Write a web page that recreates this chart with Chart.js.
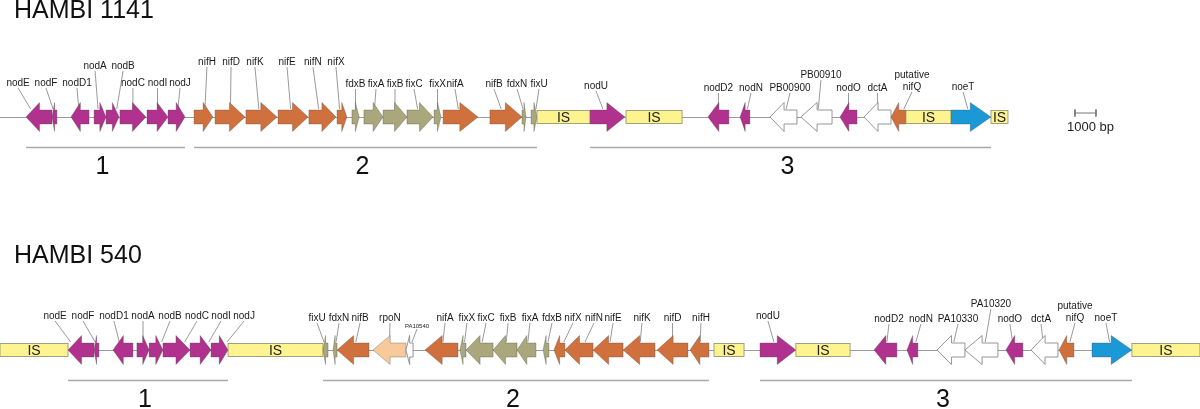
<!DOCTYPE html>
<html>
<head>
<meta charset="utf-8">
<title>nod / nif gene clusters</title>
<script src="https://cdn.jsdelivr.net/npm/chart.js@4.4.1/dist/chart.umd.min.js"></script>
<style>
  html, body { margin: 0; padding: 0; background: #fff; }
  #geneChart { display: block; }
</style>
</head>
<body>
<canvas id="geneChart" width="1200" height="409"></canvas>
<script>
// Gene maps of two strains, positions in kb along the plasmid region

// HAMBI 1141
const names1141 = ['nodE', 'nodF', 'nodD1', 'nodA', 'nodB', 'nodC', 'nodI', 'nodJ',
  'nifH', 'nifD', 'nifK', 'nifE', 'nifN', 'nifX', 'fdxB', 'fixA', 'fixB', 'fixC', 'fixX', 'nifA', 'nifB', 'fdxN', 'fixU',
  'IS', 'nodU', 'IS', 'nodD2', 'nodN', 'PB00900', 'PB00910', 'nodO', 'dctA', 'putative\nnifQ', 'IS', 'noeT', 'IS'];
const starts1141 = [1.24, 2.48, 3.38, 4.48, 5.05, 5.71, 7.00, 8.00,
  9.24, 10.24, 11.71, 13.24, 14.71, 16.05, 16.76, 17.33, 18.24, 19.38, 20.67, 21.10, 23.33, 24.86, 25.29,
  25.57, 28.10, 29.81, 33.71, 35.24, 36.67, 38.14, 40.00, 41.14, 42.43, 43.14, 45.29, 47.19];
const ends1141 = [2.48, 2.71, 4.24, 5.05, 5.67, 6.95, 8.00, 8.81,
  10.14, 11.67, 13.19, 14.67, 16.00, 16.52, 17.10, 18.24, 19.38, 20.62, 21.00, 22.76, 24.86, 25.05, 25.57,
  28.10, 29.76, 32.48, 34.71, 35.71, 37.95, 39.62, 40.81, 42.43, 43.14, 45.29, 47.19, 48.00];
const strands1141 = [-1, -1, -1, 1, 1, 1, 1, 1,
  1, 1, 1, 1, 1, 1, 1, 1, 1, 1, 1, 1, 1, 1, 1,
  0, 1, 0, -1, -1, -1, -1, -1, -1, -1, 0, 1, 0];
const types1141 = ['nod', 'nod', 'nod', 'nod', 'nod', 'nod', 'nod', 'nod',
  'nif', 'nif', 'nif', 'nif', 'nif', 'nif', 'fix', 'fix', 'fix', 'fix', 'fix', 'nif', 'nif', 'fix', 'fix',
  'IS', 'nod', 'IS', 'nod', 'nod', 'other', 'other', 'nod', 'other', 'nif', 'IS', 'noe', 'IS'];
const clusterFirst1141 = [0, 8, 24];
const clusterLast1141 = [7, 22, 34];

// HAMBI 540
const names540 = ['IS', 'nodE', 'nodF', 'nodD1', 'nodA', 'nodB', 'nodC', 'nodI', 'nodJ', 'IS',
  'fixU', 'fdxN', 'nifB', 'rpoN', 'PA10540', 'nifA', 'fixX', 'fixC', 'fixB', 'fixA', 'fdxB',
  'nifX', 'nifN', 'nifE', 'nifK', 'nifD', 'nifH', 'IS', 'nodU', 'IS',
  'nodD2', 'nodN', 'PA10330', 'PA10320', 'nodO', 'dctA', 'putative\nnifQ', 'noeT', 'IS'];
const starts540 = [0, 3.24, 4.48, 5.38, 6.52, 7.10, 7.76, 9.05, 10.05, 10.86,
  15.38, 15.86, 16.05, 17.76, 19.33, 20.24, 21.90, 22.19, 23.48, 24.62, 25.86,
  26.38, 26.90, 28.24, 29.67, 31.29, 32.86, 34.00, 36.19, 37.90,
  41.62, 43.19, 44.62, 45.95, 47.90, 49.10, 50.43, 52.00, 53.90];
const ends540 = [3.24, 4.48, 4.71, 6.33, 7.10, 7.76, 9.05, 10.05, 10.86, 15.38,
  15.62, 16.05, 17.57, 19.33, 19.67, 21.81, 22.19, 23.48, 24.62, 25.52, 26.14,
  26.90, 28.24, 29.67, 31.19, 32.76, 33.76, 35.43, 37.90, 40.48,
  42.71, 43.71, 45.95, 47.52, 48.71, 50.38, 51.14, 53.90, 57.14];
const strands540 = [0, -1, -1, -1, 1, 1, 1, 1, 1, 0,
  -1, -1, -1, -1, -1, -1, -1, -1, -1, -1, -1,
  -1, -1, -1, -1, -1, -1, 0, 1, 0,
  -1, -1, -1, -1, -1, -1, -1, 1, 0];
const types540 = ['IS', 'nod', 'nod', 'nod', 'nod', 'nod', 'nod', 'nod', 'nod', 'IS',
  'fix', 'fix', 'nif', 'rpo', 'other', 'nif', 'fix', 'fix', 'fix', 'fix', 'fix',
  'nif', 'nif', 'nif', 'nif', 'nif', 'nif', 'IS', 'nod', 'IS',
  'nod', 'nod', 'other', 'other', 'nod', 'other', 'nif', 'noe', 'IS'];
const clusterFirst540 = [1, 10, 28];
const clusterLast540 = [8, 26, 37];

const clusterNames = ['1', '2', '3'];
const scaleBarStart = 51.19;
const scaleBarLength = 1; // 1000 bp

// Label placement (px offset from gene centre, px lift above the track)
const labelShift1141 = [-21, -8.5, -3, -5, 10.5, 0, 0, 3.5, 3.5, 1, -6.5, -6, -9.5, -6, 0, 2.5, 0, -6, 0, -5.5, -12, -7, 5,
  null, -11.5, null, 0, 6, 6.5, 4.5, 0, 0, 13.5, null, -8, null];
const labelLift1141 = [34, 34, 34, 51, 51, 34, 34, 34, 55, 55, 55, 55, 55, 55, 33, 33, 33, 33, 33, 33, 33, 33, 33,
  null, 31, null, 29, 29, 29, 42, 29, 29, 30, null, 30, null];
const labelShift540 = [null, -26, -13.5, -9, 0, 14, 20.5, 20.5, 24.5, null,
  -8.5, 4, 7, 0.5, 7.5, 3.5, 4, 6.5, 3, 3.5, 6, 13.5, 15, 5, 3, 0, 1.5, null, -10, null,
  3.5, 8.5, 7, 9.5, -4.5, -3.5, 8.5, -6, null];
const labelLift540 = [null, 34, 34, 34, 34, 34, 34, 34, 34, null,
  32, 32, 32, 32, 24, 32, 32, 32, 32, 32, 32, 32, 32, 32, 32, 32, 32, null, 34, null,
  31, 31, 31, 46, 31, 31, 32, 32, null];
const smallLabels = ['PA10540'];

const typeColors = {
  nod: '#b1328e', nif: '#d0703c', fix: '#a9a77b', noe: '#1b99d6',
  rpo: '#f8c99b', other: '#ffffff', IS: '#fdf38f'
};
const FONT = '"Liberation Sans", Arial, sans-serif';

const tracks = [
  { title: 'HAMBI 1141', y: 117, titleBase: 18, names: names1141, starts: starts1141, ends: ends1141,
    strands: strands1141, types: types1141, first: clusterFirst1141, last: clusterLast1141,
    shift: labelShift1141, lift: labelLift1141, lineFrom: 0 },
  { title: 'HAMBI 540', y: 350, titleBase: 263, names: names540, starts: starts540, ends: ends540,
    strands: strands540, types: types540, first: clusterFirst540, last: clusterLast540,
    shift: labelShift540, lift: labelLift540, lineFrom: 0 }
];

function lineSet(points, color, width) {
  return { data: points, showLine: true, borderColor: color, borderWidth: width, pointRadius: 0, fill: false, order: 5 };
}

// Backbone lines, cluster brackets and the scale bar go through the line controller
const datasets = [];
tracks.forEach(track => {
  const endKb = Math.max(...track.ends);
  datasets.push(lineSet([{ x: track.lineFrom, y: track.y + 0.5 }, { x: endKb, y: track.y + 0.5 }], '#9b9b9b', 1));
  track.first.forEach((firstIdx, i) => {
    const from = track.starts[firstIdx];
    const to = track.ends[track.last[i]];
    datasets.push(lineSet([{ x: from, y: track.y + 30.5 }, { x: to, y: track.y + 30.5 }], '#a8a8a8', 1.5));
  });
});
const barY = tracks[0].y - 4;
datasets.push(lineSet([{ x: scaleBarStart, y: barY }, { x: scaleBarStart + scaleBarLength, y: barY }], '#777', 1));
datasets.push(lineSet([{ x: scaleBarStart, y: barY - 3.5 }, { x: scaleBarStart, y: barY + 3.5 }], '#777', 1));
datasets.push(lineSet([{ x: scaleBarStart + scaleBarLength, y: barY - 3.5 }, { x: scaleBarStart + scaleBarLength, y: barY + 3.5 }], '#777', 1));

function arrowPath(ctx, xs, xe, yc, strand) {
  const head = (xe - xs) * 0.52;
  const bh = 7, hh = 14.5;
  const tip = strand > 0 ? xe : xs;
  const back = strand > 0 ? xs : xe;
  const hb = strand > 0 ? xe - head : xs + head;
  ctx.beginPath();
  ctx.moveTo(back, yc - bh);
  ctx.lineTo(hb, yc - bh);
  ctx.lineTo(hb, yc - hh);
  ctx.lineTo(tip, yc);
  ctx.lineTo(hb, yc + hh);
  ctx.lineTo(hb, yc + bh);
  ctx.lineTo(back, yc + bh);
  ctx.closePath();
}

function drawTrack(ctx, xScale, yScale, track) {
  const yc = yScale.getPixelForValue(track.y);

  // leader lines first, so the genes cover their ends
  ctx.strokeStyle = '#6f6f6f';
  ctx.lineWidth = 0.7;
  track.names.forEach((name, i) => {
    if (track.types[i] === 'IS') return;
    const xs = xScale.getPixelForValue(track.starts[i]);
    const xe = xScale.getPixelForValue(track.ends[i]);
    const mid = (xs + xe) / 2;
    const half = Math.max((xe - xs) / 2 - 1, 0);
    const lx = mid + track.shift[i];
    const small = smallLabels.includes(name);
    const ly = yc - track.lift[i] + (small ? 3 : 5);
    const tx = mid + Math.max(-half, Math.min(half, track.shift[i] * 0.4));
    ctx.beginPath();
    ctx.moveTo(lx, ly);
    ctx.lineTo(tx, yc - 8);
    ctx.stroke();
  });

  track.names.forEach((name, i) => {
    const xs = xScale.getPixelForValue(track.starts[i]);
    const xe = xScale.getPixelForValue(track.ends[i]);
    const type = track.types[i];
    if (type === 'IS') {
      ctx.fillStyle = typeColors.IS;
      ctx.fillRect(xs, yc - 6.5, xe - xs, 13);
      ctx.strokeStyle = '#8c8c6c';
      ctx.lineWidth = 0.8;
      ctx.strokeRect(xs, yc - 6.5, xe - xs, 13);
      ctx.fillStyle = '#222';
      ctx.font = '14px ' + FONT;
      ctx.textAlign = 'center';
      ctx.textBaseline = 'middle';
      ctx.fillText('IS', (xs + xe) / 2, yc + 1);
      return;
    }
    arrowPath(ctx, xs, xe, yc, track.strands[i]);
    ctx.fillStyle = typeColors[type];
    ctx.fill();
    ctx.strokeStyle = type === 'other' ? '#8a8a8a' : 'rgba(70,70,70,0.55)';
    ctx.lineWidth = type === 'other' ? 0.9 : 0.6;
    ctx.stroke();
  });

  // gene labels
  ctx.fillStyle = '#1a1a1a';
  ctx.textAlign = 'center';
  ctx.textBaseline = 'middle';
  track.names.forEach((name, i) => {
    if (track.types[i] === 'IS') return;
    const xs = xScale.getPixelForValue(track.starts[i]);
    const xe = xScale.getPixelForValue(track.ends[i]);
    const lx = (xs + xe) / 2 + track.shift[i];
    const small = smallLabels.includes(name);
    ctx.font = (small ? '6px ' : '10px ') + FONT;
    const lines = name.split('\n');
    lines.forEach((text, k) => {
      const ly = yc - track.lift[i] - (lines.length - 1 - k) * 12;
      ctx.fillText(text, lx, ly);
    });
  });

  // cluster numbers
  ctx.font = '25px ' + FONT;
  ctx.fillStyle = '#111';
  track.first.forEach((firstIdx, i) => {
    const from = xScale.getPixelForValue(track.starts[firstIdx]);
    const to = xScale.getPixelForValue(track.ends[track.last[i]]);
    ctx.fillText(clusterNames[i], (from + to) / 2 - 3, yc + 50);
  });

  // strain title
  ctx.textAlign = 'left';
  ctx.textBaseline = 'alphabetic';
  ctx.fillText(track.title, 14, track.titleBase);
}

const geneMapPlugin = {
  id: 'geneMap',
  afterDatasetsDraw(chart) {
    const { ctx, scales: { x, y } } = chart;
    ctx.save();
    tracks.forEach(track => drawTrack(ctx, x, y, track));
    const from = x.getPixelForValue(scaleBarStart);
    const to = x.getPixelForValue(scaleBarStart + scaleBarLength);
    ctx.fillStyle = '#222';
    ctx.font = '13px ' + FONT;
    ctx.textAlign = 'center';
    ctx.textBaseline = 'middle';
    ctx.fillText('1000 bp', (from + to) / 2 + 5, y.getPixelForValue(barY + 14));
    ctx.restore();
  }
};

new Chart(document.getElementById('geneChart'), {
  type: 'scatter',
  data: { datasets },
  plugins: [geneMapPlugin],
  options: {
    responsive: false,
    devicePixelRatio: 1,
    animation: false,
    events: [],
    layout: { padding: 0 },
    scales: {
      x: { type: 'linear', min: 0, max: 1200 / 21, display: false },
      y: { type: 'linear', min: 0, max: 409, reverse: true, display: false }
    },
    plugins: { legend: { display: false }, tooltip: { enabled: false } }
  }
});
</script>
</body>
</html>
